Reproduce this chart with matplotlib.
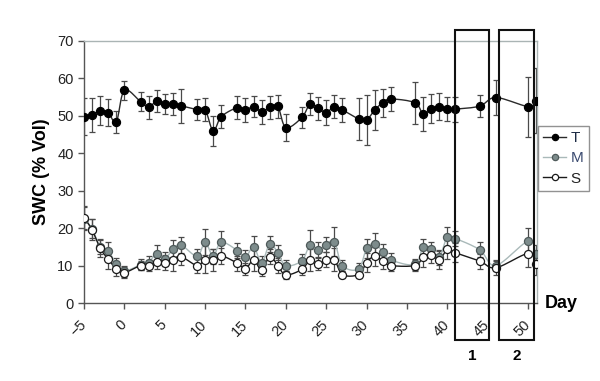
import numpy as np
import matplotlib
matplotlib.use("Agg")
import matplotlib.pyplot as plt
from matplotlib.patches import Rectangle

plt.rcParams['font.family'] = ['Liberation Sans', 'DejaVu Sans']

days = [-5, -4, -3, -2, -1, 0, 2, 3, 4, 5, 6, 7, 9, 10, 11, 12, 14, 15, 16, 17, 18, 19, 20,
        22, 23, 24, 25, 26, 27, 29, 30, 31, 32, 33, 36, 37, 38, 39, 40, 41, 44, 46, 50, 51]

swc_T = [49.7, 50.1, 51.3, 50.8, 48.3, 56.7, 53.7, 52.2, 53.9, 53.1, 53.0, 52.6, 51.6, 51.6,
         45.9, 49.7, 52.1, 51.5, 52.4, 51.0, 52.2, 52.5, 46.8, 49.5, 53.1, 51.9, 50.8, 52.4,
         51.5, 49.1, 48.8, 51.5, 53.4, 54.4, 53.4, 50.4, 51.8, 52.4, 51.7, 51.7, 52.5, 54.8,
         52.4, 54.0]
err_T = [5.0, 4.6, 3.9, 3.7, 2.9, 2.6, 2.5, 3.1, 2.9, 2.6, 2.9, 4.5, 2.8, 3.0, 3.9, 3.1, 3.1,
         3.1, 2.8, 3.2, 3.1, 3.1, 3.5, 2.9, 2.9, 3.1, 3.4, 3.0, 3.3, 5.5, 6.7, 5.4, 3.8, 3.3,
         5.6, 4.6, 3.9, 3.7, 3.2, 3.3, 2.9, 4.7, 8.0, 8.6]

swc_M = [22.5, 19.8, 15.0, 14.0, 10.3, 8.5, 10.2, 10.8, 13.2, 11.7, 14.4, 15.5, 12.5, 16.2,
         12.5, 16.2, 14.0, 12.2, 15.0, 10.8, 15.7, 13.4, 10.0, 11.3, 15.6, 14.2, 15.6, 16.4,
         10.0, 9.1, 14.6, 15.8, 13.7, 11.5, 10.3, 15.0, 14.3, 12.2, 17.7, 17.2, 14.2, 10.0,
         16.5, 13.0]
err_M = [3.0, 2.5, 2.0, 2.2, 1.8, 1.5, 1.5, 1.8, 2.2, 1.8, 2.5, 2.2, 2.0, 3.5, 2.0, 3.0, 2.0,
         2.0, 3.0, 1.8, 2.2, 2.0, 1.5, 1.8, 4.0, 2.0, 2.0, 3.8, 1.5, 1.5, 2.5, 2.8, 2.0, 1.8,
         1.5, 2.2, 2.0, 2.0, 2.5, 2.0, 2.0, 1.5, 3.5, 2.5]

swc_S = [22.8, 19.5, 14.6, 11.7, 9.1, 8.1, 10.0, 10.0, 11.0, 10.8, 11.6, 12.4, 10.0, 11.6,
         11.5, 12.6, 10.6, 9.1, 11.5, 8.8, 12.4, 10.0, 7.5, 9.0, 11.5, 10.4, 11.5, 11.6, 7.6,
         7.6, 10.8, 12.5, 11.2, 10.0, 10.0, 12.2, 12.8, 11.5, 14.3, 13.4, 11.2, 9.4, 13.2, 10.4]
err_S = [3.0, 2.8, 2.2, 2.5, 2.0, 1.5, 1.2, 1.5, 2.0, 2.0, 3.0, 2.2, 2.0, 3.5, 3.0, 2.2, 2.0,
         1.5, 3.0, 1.5, 2.0, 2.0, 1.0, 1.5, 3.0, 1.5, 2.0, 3.0, 1.0, 1.0, 2.5, 2.5, 2.0, 1.5,
         1.5, 2.5, 2.0, 2.5, 2.5, 2.5, 2.0, 1.8, 3.5, 3.0]

xticks = list(range(-5, 51, 5))
yticks = list(range(0, 71, 10))


# excel-like smoothed line (catmull-rom through the points)
def smooth(x, y, n=12):
    x = np.asarray(x, float)
    y = np.asarray(y, float)
    px = np.concatenate([[x[0]], x, [x[-1]]])
    py = np.concatenate([[y[0]], y, [y[-1]]])
    t = np.linspace(0, 1, n)[:, None]
    out_x, out_y = [], []
    for i in range(1, len(px) - 2):
        for p, out in ((px, out_x), (py, out_y)):
            p0, p1, p2, p3 = p[i - 1], p[i], p[i + 1], p[i + 2]
            seg = 0.5 * (2 * p1 + (-p0 + p2) * t + (2 * p0 - 5 * p1 + 4 * p2 - p3) * t ** 2
                         + (-p0 + 3 * p1 - 3 * p2 + p3) * t ** 3)
            out.append(seg.ravel())
    return np.concatenate(out_x), np.concatenate(out_y)


fig = plt.figure(figsize=(6, 3.81), dpi=100)
ax = fig.add_axes([0.14, 0.2047, 0.755, 0.689])

ecol = '#4a4a4a'
series = [
    (swc_M, err_M, '#a9b9b9', '#7d8c8c', '#4f5a5a', 'M'),
    (swc_S, err_S, '#1a1a1a', 'white', '#1a1a1a', 'S'),
    (swc_T, err_T, '#2a2a2a', 'black', 'black', 'T'),
]
handles = {}
for vals, errs, lcol, fcol, edge, name in series:
    ax.errorbar(days, vals, yerr=errs, fmt='none', ecolor=ecol, elinewidth=0.9,
                capsize=2.5, capthick=0.9, zorder=2)
    sx, sy = smooth(days, vals)
    ax.plot(sx, sy, color=lcol, lw=1.0, zorder=3)
    ax.plot(days, vals, ls='none', marker='o', ms=5.8, mfc=fcol, mec=edge, mew=0.9, zorder=4)
    handles[name] = plt.Line2D([], [], color=lcol, lw=1.0, marker='o', ms=4.5,
                               mfc=fcol, mec=edge, mew=0.9)

ax.set_xlim(-5, 51.1)
ax.set_ylim(0, 70)
ax.set_xticks(xticks)
ax.set_yticks(yticks)
ax.tick_params(axis='both', direction='out', length=4, width=1, color='#555555',
               labelsize=10.5, labelcolor='#222222')
ax.tick_params(axis='x', pad=10)
for lab in ax.get_xticklabels():
    lab.set_rotation(45)
    lab.set_ha('right')
    lab.set_va('center')
    lab.set_rotation_mode('anchor')

for s in ['left', 'bottom']:
    ax.spines[s].set_color('#555555')
    ax.spines[s].set_linewidth(1.0)
for s in ['top', 'right']:
    ax.spines[s].set_color('#aab4b4')
    ax.spines[s].set_linewidth(1.0)

ax.set_ylabel('SWC (% Vol)', fontsize=13, fontweight='bold', labelpad=5)
fig.text(545 / 600, 1 - 303 / 381, 'Day', fontsize=13, fontweight='bold',
         ha='left', va='center')

# boxes marking the two periods
for x0, x1, lab in [(40.9, 45.2, '1'), (46.4, 50.75, '2')]:
    ax.add_patch(Rectangle((x0, -9.9), x1 - x0, 82.7, fill=False, ec='#111111',
                           lw=1.5, clip_on=False, zorder=5))
    ax.text((x0 + x1) / 2, -14.2, lab, ha='center', va='center', fontsize=11,
            fontweight='bold', clip_on=False)

leg = fig.legend([handles['T'], handles['M'], handles['S']], ['T', 'M', 'S'],
                 loc='upper left', bbox_to_anchor=(538 / 600, 1 - 126 / 381),
                 fontsize=11, frameon=True, fancybox=False, handlelength=1.5,
                 handletextpad=0.3, borderpad=0.35, labelspacing=0.4, borderaxespad=0)
leg.get_frame().set_edgecolor('#777777')
leg.get_frame().set_linewidth(1.0)
for t, c in zip(leg.get_texts(), ['#1c2a44', '#3a4a70', '#222222']):
    t.set_color(c)

fig.savefig('out.png', dpi=100)
